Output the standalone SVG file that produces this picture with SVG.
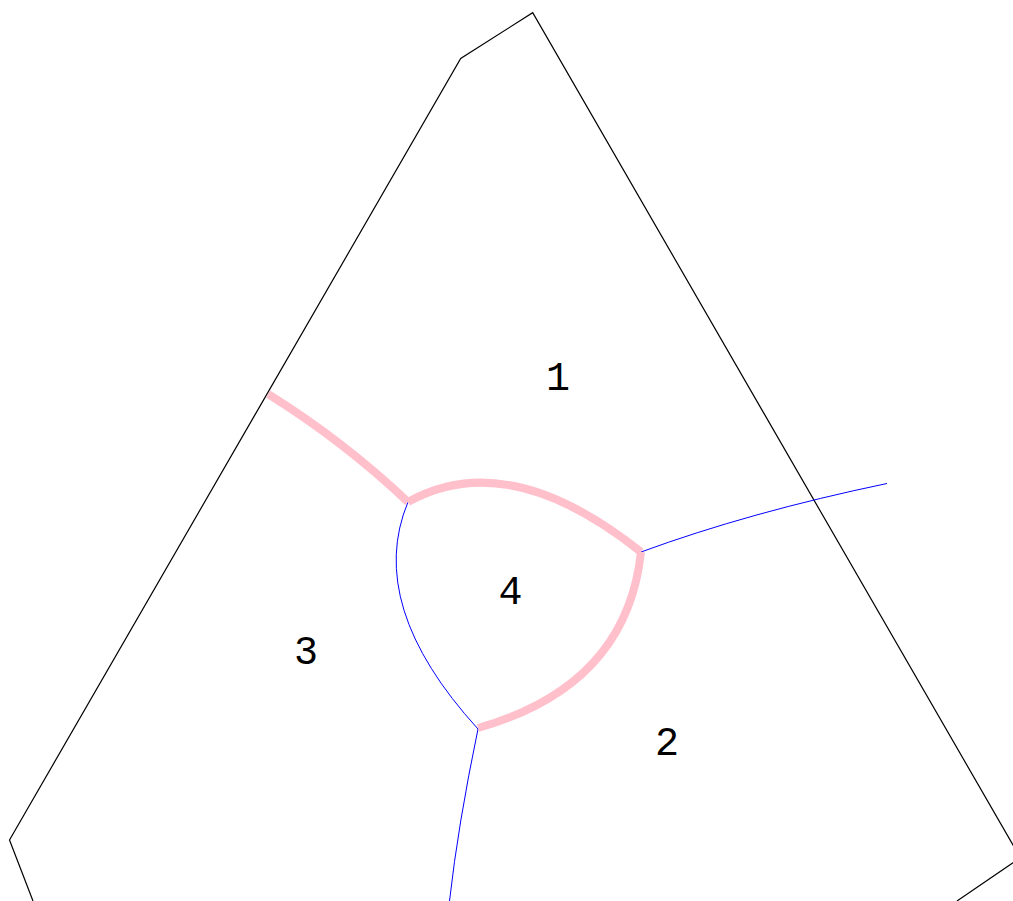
<svg xmlns="http://www.w3.org/2000/svg" width="1013" height="901" viewBox="0 0 1013 901">
<style>
.outline{fill:none;stroke:#000;stroke-width:1.2}
.blue{fill:none;stroke:#0000ff;stroke-width:1}
.pink{fill:none;stroke:#ffc0cb;stroke-width:8;stroke-linejoin:miter}
.lbl{font-family:"Liberation Mono","Courier New",monospace;font-size:40px;fill:#000;text-anchor:middle}
</style>
<rect width="1013" height="901" fill="#fff"/>
<g id="boundary">
<polyline class="outline" points="33,901 9.5,840 460.7,58.5 532.7,12.7 1020.4,857.8 957,901"/>
</g>
<g id="connectors">
<path class="blue" d="M408,502 Q365,605 478,729"/>
<path class="blue" d="M641,552 Q750,512 887,483.5"/>
<path class="blue" d="M478,729 Q458,825 449.5,901"/>
<path class="pink" d="M268,394 Q343.7,441.1 408,502"/>
<path class="pink" d="M408,502 Q508,446 641,552"/>
<path class="pink" d="M641,552 Q626.5,686 478,728"/>
</g>
<g id="region1"><text class="lbl" x="558" y="390">1</text></g>
<g id="region2"><text class="lbl" x="667" y="755">2</text></g>
<g id="region3"><text class="lbl" x="306" y="664">3</text></g>
<g id="region4"><text class="lbl" x="510.5" y="604">4</text></g>
</svg>
